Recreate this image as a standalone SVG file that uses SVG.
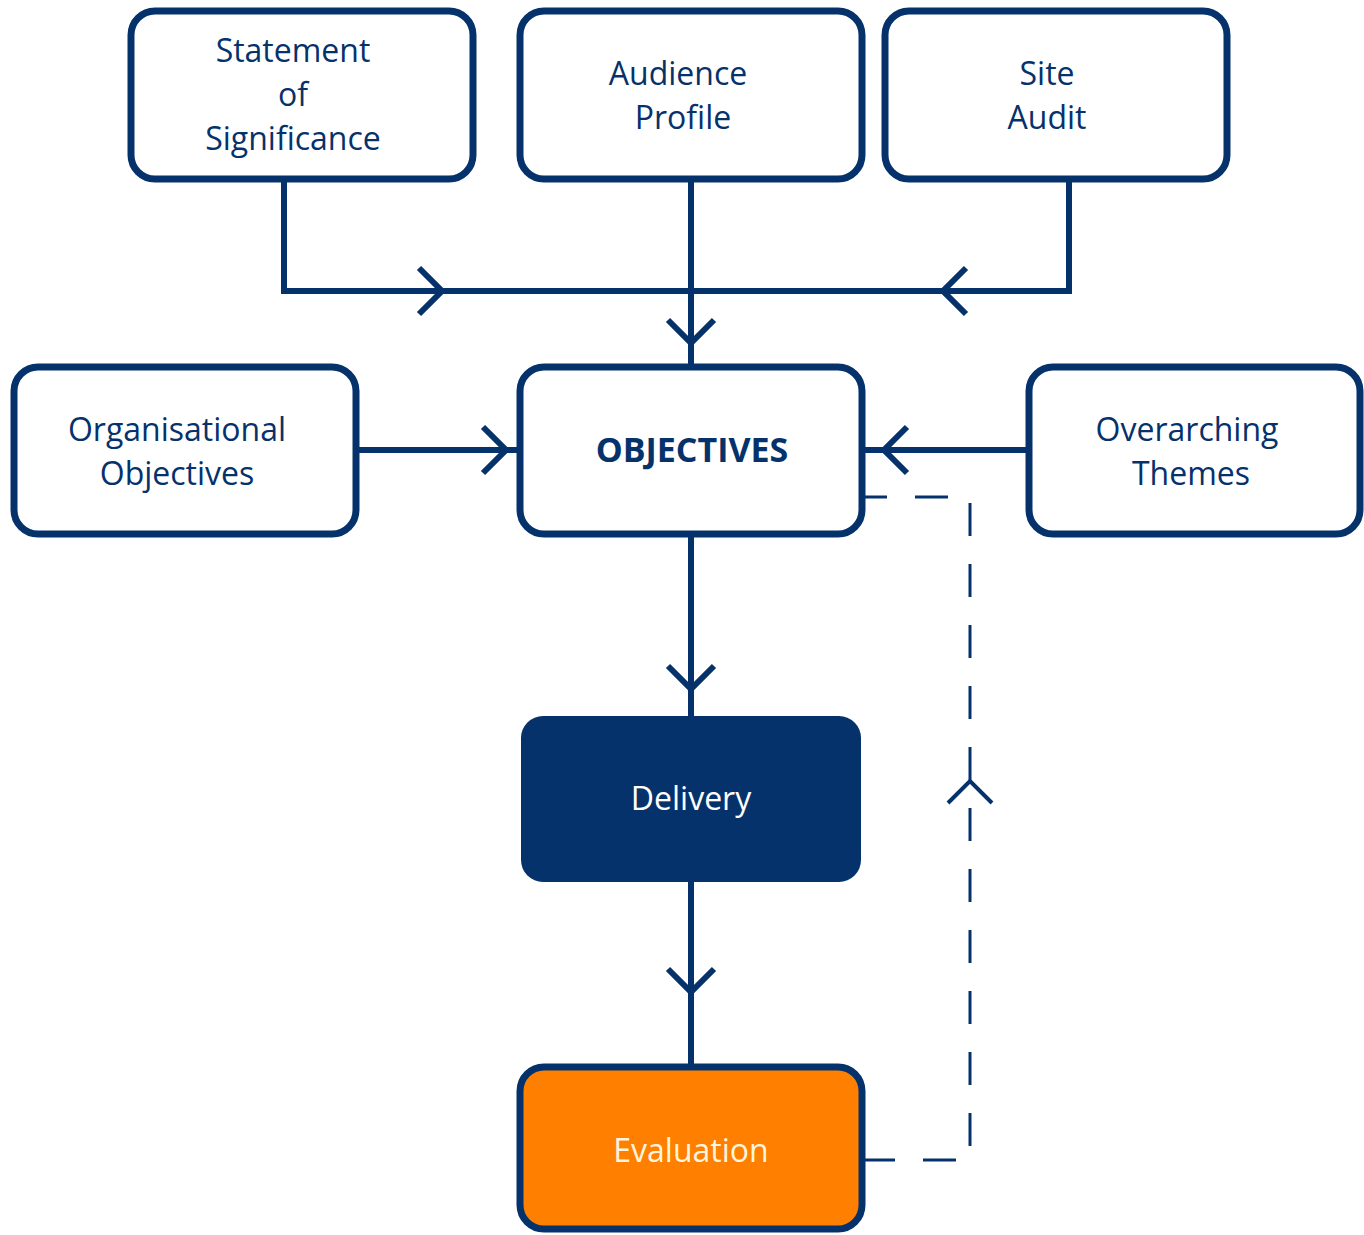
<svg xmlns="http://www.w3.org/2000/svg" width="1364" height="1235" viewBox="0 0 1364 1235">
<style>
.box{fill:#fff;stroke:#06326b;stroke-width:7}
.t{font-family:"Open Sans","Noto Sans","Liberation Sans",sans-serif;font-size:32px;fill:#06326b;text-anchor:middle}
.ln{fill:none;stroke:#06326b;stroke-width:6}
.dash{fill:none;stroke:#06326b;stroke-width:3;stroke-dasharray:33 28}
.chev{fill:none;stroke:#06326b;stroke-width:6}
</style>
<rect width="1364" height="1235" fill="#fff"/>
<g id="connectors">
<path class="ln" d="M284 180 V291 H1069 V180"/>
<path class="ln" d="M691 180 V366"/>
<path class="ln" d="M356 450 H520"/>
<path class="ln" d="M1028 450 H862"/>
<path class="ln" d="M691 535 V716"/>
<path class="ln" d="M691 882 V1066"/>
<path class="dash" d="M862 1160 H970 V497 H862"/>
<path class="chev" d="M419 268 L442 291 L419 314"/>
<path class="chev" d="M966 268 L943 291 L966 314"/>
<path class="chev" d="M668 320 L691 343 L714 320"/>
<path class="chev" d="M483 427 L506 450 L483 473"/>
<path class="chev" d="M907 427 L884 450 L907 473"/>
<path class="chev" d="M668 666 L691 689 L714 666"/>
<path class="chev" d="M668 969 L691 992 L714 969"/>
<path class="chev" style="stroke-width:4" d="M948 803 L970 781 L992 803"/>
</g>
<g id="statement">
<rect class="box" x="131" y="11" width="342" height="168" rx="24"/>
<text class="t" x="293" y="62">Statement</text>
<text class="t" x="293" y="106">of</text>
<text class="t" x="293" y="150">Significance</text>
</g>
<g id="audience">
<rect class="box" x="520" y="11" width="342" height="168" rx="24"/>
<text class="t" x="678" y="85">Audience</text>
<text class="t" x="683" y="129">Profile</text>
</g>
<g id="site-audit">
<rect class="box" x="885" y="11" width="342" height="168" rx="24"/>
<text class="t" x="1047" y="85">Site</text>
<text class="t" x="1047" y="129">Audit</text>
</g>
<g id="organisational">
<rect class="box" x="14" y="367" width="342" height="167" rx="24"/>
<text class="t" x="177" y="441">Organisational</text>
<text class="t" x="177" y="485">Objectives</text>
</g>
<g id="objectives">
<rect class="box" x="520" y="367" width="342" height="167" rx="24"/>
<text class="t" x="692" y="462" style="font-weight:700;font-size:34px">OBJECTIVES</text>
</g>
<g id="overarching">
<rect class="box" x="1029" y="367" width="331" height="167" rx="24"/>
<text class="t" x="1187" y="441">Overarching</text>
<text class="t" x="1191" y="485">Themes</text>
</g>
<g id="delivery">
<rect x="521" y="716" width="340" height="166" rx="22" fill="#06326b"/>
<text class="t" x="691" y="810" style="fill:#fff">Delivery</text>
</g>
<g id="evaluation">
<rect class="box" x="520" y="1067" width="342" height="162" rx="24" style="fill:#ff7f00"/>
<text class="t" x="691" y="1162" style="fill:#fff4dc">Evaluation</text>
</g>
</svg>
